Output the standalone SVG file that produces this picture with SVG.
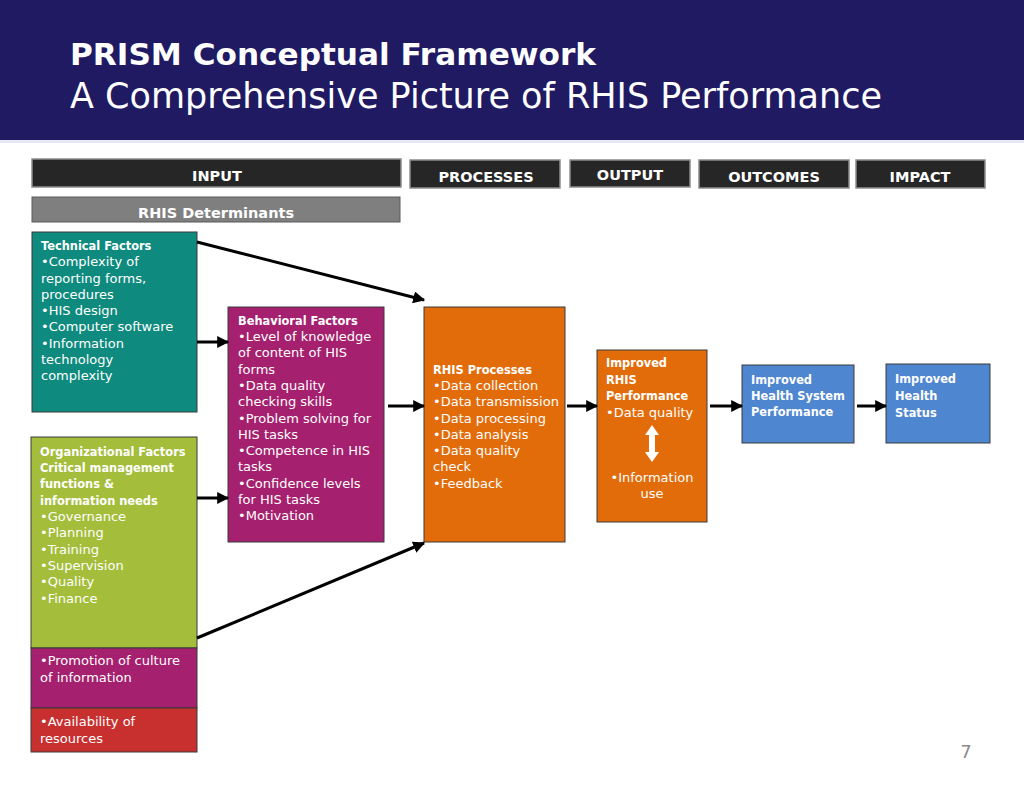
<svg xmlns="http://www.w3.org/2000/svg" width="1024" height="791" viewBox="0 0 1024 791">
<defs>
<marker id="ah" viewBox="0 0 10 10" refX="9" refY="5" markerWidth="4" markerHeight="4" orient="auto" markerUnits="strokeWidth"><path d="M0,0 L10,5 L0,10 z" fill="#000"/></marker>
<style>
.hdr{fill:#262626;stroke:#8c8c8c;stroke-width:1.5}
.ht{font-family:"DejaVu Sans",sans-serif;font-weight:bold;font-size:14.5px;fill:#fff;text-anchor:middle}
.t{font-family:"DejaVu Sans",sans-serif;font-size:13px;fill:#fff}
.b{font-weight:bold;font-size:11.4px}
.box{stroke:#3a3a3a;stroke-width:1}
.c{stroke:#000;stroke-width:3;fill:none;marker-end:url(#ah)}
</style>
</defs>
<rect x="0" y="0" width="1024" height="791" fill="#fff"/>
<g id="title">
<rect x="0" y="0" width="1024" height="140" fill="#201A62"/>
<rect x="0" y="140" width="1024" height="3" fill="#e6e8f2"/>
<text x="70" y="65" font-family="DejaVu Sans, sans-serif" font-weight="bold" font-size="31" fill="#fff" textLength="526" lengthAdjust="spacingAndGlyphs">PRISM Conceptual Framework</text>
<text x="70" y="108" font-family="DejaVu Sans, sans-serif" font-size="35" fill="#fff" textLength="812" lengthAdjust="spacingAndGlyphs">A Comprehensive Picture of RHIS Performance</text>
</g>
<g id="headers">
<g id="h-input"><rect class="hdr" x="32" y="159" width="369" height="28"/><text class="ht" x="217" y="181">INPUT</text></g>
<g id="h-processes"><rect class="hdr" x="410" y="160" width="150" height="28"/><text class="ht" x="486" y="182">PROCESSES</text></g>
<g id="h-output"><rect class="hdr" x="570" y="160" width="120" height="27"/><text class="ht" x="630" y="180">OUTPUT</text></g>
<g id="h-outcomes"><rect class="hdr" x="699" y="160" width="150" height="28"/><text class="ht" x="774" y="182">OUTCOMES</text></g>
<g id="h-impact"><rect class="hdr" x="856" y="160" width="129" height="28"/><text class="ht" x="920" y="182">IMPACT</text></g>
<g id="h-determinants"><rect x="32" y="197" width="368" height="25" fill="#7f7f7f" stroke="#5a5a5a" stroke-width="1"/><text class="ht" x="216" y="218">RHIS Determinants</text></g>
</g>
<g id="technical">
<rect class="box" x="32" y="232" width="165" height="180" fill="#0F8A7E"/>
<text class="t"><tspan class="b" x="41" y="250">Technical Factors</tspan><tspan x="41" y="266">•Complexity of</tspan><tspan x="41" y="283">reporting forms,</tspan><tspan x="41" y="299">procedures</tspan><tspan x="41" y="315">•HIS design</tspan><tspan x="41" y="331">•Computer software</tspan><tspan x="41" y="348">•Information</tspan><tspan x="41" y="364">technology</tspan><tspan x="41" y="380">complexity</tspan></text>
</g>
<g id="organizational">
<rect class="box" x="31" y="437" width="166" height="211" fill="#A4BD3A"/>
<text class="t"><tspan class="b" x="40" y="456">Organizational Factors</tspan><tspan class="b" x="40" y="472">Critical management</tspan><tspan class="b" x="40" y="488">functions &amp;</tspan><tspan class="b" x="40" y="505">information needs</tspan><tspan x="40" y="521">•Governance</tspan><tspan x="40" y="537">•Planning</tspan><tspan x="40" y="554">•Training</tspan><tspan x="40" y="570">•Supervision</tspan><tspan x="40" y="586">•Quality</tspan><tspan x="40" y="603">•Finance</tspan></text>
</g>
<g id="promotion">
<rect class="box" x="31" y="648" width="166" height="60" fill="#A5206E"/>
<text class="t"><tspan x="40" y="665">•Promotion of culture</tspan><tspan x="40" y="682">of information</tspan></text>
</g>
<g id="availability">
<rect class="box" x="31" y="708" width="166" height="44" fill="#C8302F"/>
<text class="t"><tspan x="40" y="726">•Availability of</tspan><tspan x="40" y="743">resources</tspan></text>
</g>
<g id="behavioral">
<rect class="box" x="228" y="307" width="156" height="235" fill="#A5206E"/>
<text class="t"><tspan class="b" x="238" y="325">Behavioral Factors</tspan><tspan x="238" y="341">•Level of knowledge</tspan><tspan x="238" y="357">of content of HIS</tspan><tspan x="238" y="374">forms</tspan><tspan x="238" y="390">•Data quality</tspan><tspan x="238" y="406">checking skills</tspan><tspan x="238" y="423">•Problem solving for</tspan><tspan x="238" y="439">HIS tasks</tspan><tspan x="238" y="455">•Competence in HIS</tspan><tspan x="238" y="471">tasks</tspan><tspan x="238" y="488">•Confidence levels</tspan><tspan x="238" y="504">for HIS tasks</tspan><tspan x="238" y="520">•Motivation</tspan></text>
</g>
<g id="processes">
<rect class="box" x="424" y="307" width="141" height="235" fill="#E36C0A"/>
<text class="t"><tspan class="b" x="433" y="374">RHIS Processes</tspan><tspan x="433" y="390">•Data collection</tspan><tspan x="433" y="406">•Data transmission</tspan><tspan x="433" y="423">•Data processing</tspan><tspan x="433" y="439">•Data analysis</tspan><tspan x="433" y="455">•Data quality</tspan><tspan x="433" y="471">check</tspan><tspan x="433" y="488">•Feedback</tspan></text>
</g>
<g id="rhis-performance">
<rect class="box" x="597" y="350" width="110" height="172" fill="#E36C0A"/>
<text class="t"><tspan class="b" x="606" y="367">Improved</tspan><tspan class="b" x="606" y="384">RHIS</tspan><tspan class="b" x="606" y="400">Performance</tspan><tspan x="606" y="417">•Data quality</tspan></text>
<path d="M652,425 L659,435 L655,435 L655,452 L659,452 L652,462 L645,452 L649,452 L649,435 L645,435 Z" fill="#fff"/>
<text class="t" text-anchor="middle"><tspan x="652" y="482">•Information</tspan><tspan x="652" y="498">use</tspan></text>
</g>
<g id="hs-performance">
<rect class="box" x="742" y="365" width="112" height="78" fill="#4F86D0"/>
<text class="t b"><tspan x="751" y="384">Improved</tspan><tspan x="751" y="400">Health System</tspan><tspan x="751" y="416">Performance</tspan></text>
</g>
<g id="health-status">
<rect class="box" x="886" y="364" width="104" height="79" fill="#4F86D0"/>
<text class="t b"><tspan x="895" y="383">Improved</tspan><tspan x="895" y="400">Health</tspan><tspan x="895" y="417">Status</tspan></text>
</g>
<g id="connectors">
<line class="c" x1="197" y1="242" x2="424" y2="300"/>
<line class="c" x1="197" y1="342" x2="228" y2="342"/>
<line class="c" x1="197" y1="498" x2="228" y2="498"/>
<line class="c" x1="197" y1="638" x2="424" y2="543"/>
<line class="c" x1="388" y1="406" x2="424" y2="406"/>
<line class="c" x1="567" y1="406" x2="597" y2="406"/>
<line class="c" x1="710" y1="406" x2="742" y2="406"/>
<line class="c" x1="857" y1="406" x2="886" y2="406"/>
</g>
<text x="966" y="758" font-family="DejaVu Sans, sans-serif" font-size="18" fill="#8c8c8c" text-anchor="middle">7</text>
</svg>
